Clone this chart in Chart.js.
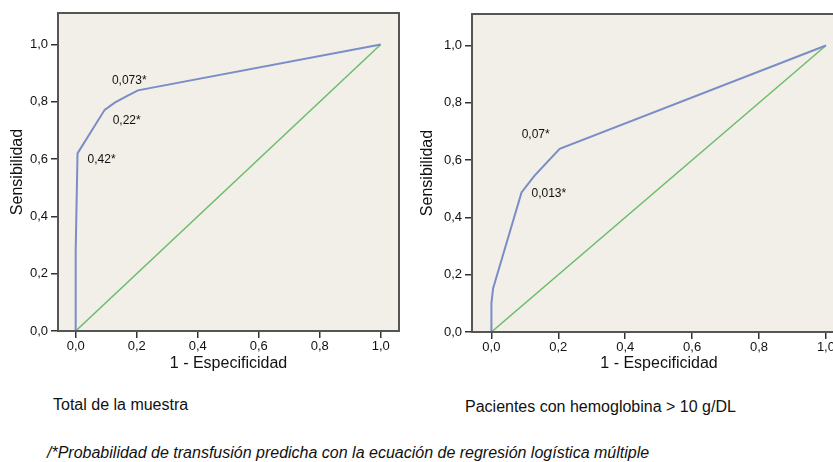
<!DOCTYPE html>
<html lang="es">
<head>
<meta charset="utf-8">
<script src="https://cdn.jsdelivr.net/npm/chart.js@4.4.0/dist/chart.umd.min.js"></script>
<style>
  html, body { margin: 0; padding: 0; background: #fff; }
  body { width: 833px; height: 462px; position: relative; overflow: hidden;
         font-family: "Liberation Sans", Arial, sans-serif; color: #111; }
  canvas { position: absolute; top: 0; }
  #rocTotal { left: 0; }
  #rocHb { left: 410px; }
  .pie { position: absolute; font-size: 16px; line-height: 18px; white-space: nowrap; }
  #pie1 { left: 53px; top: 396px; }
  #pie2 { left: 465px; top: 398px; }
  #nota { left: 47px; top: 444px; font-style: italic; }
</style>
</head>
<body>
<canvas id="rocTotal" width="410" height="380"></canvas>
<canvas id="rocHb" width="450" height="380"></canvas>
<div class="pie" id="pie1">Total de la muestra</div>
<div class="pie" id="pie2">Pacientes con hemoglobina &gt; 10 g/DL</div>
<div class="pie" id="nota">/*Probabilidad de transfusión predicha con la ecuación de regresión logística múltiple</div>

<script>
// Datos
const xTicks = [0, 0.2, 0.4, 0.6, 0.8, 1.0];
const yTicks = [0, 0.2, 0.4, 0.6, 0.8, 1.0];

// Total de la muestra
const fprTotal  = [0, 0, 0.006, 0.095, 0.128, 0.166, 0.204, 1];
const sensTotal = [0, 0.28, 0.62, 0.772, 0.797, 0.819, 0.84, 1];
const cortesTotal = ['0,42*', '0,22*', '0,073*'];
const idxTotal = [2, 3, 6];

// Pacientes con hemoglobina > 10 g/DL
const fprHb  = [0, 0, 0.005, 0.09, 0.129, 0.204, 1];
const sensHb = [0, 0.10, 0.152, 0.487, 0.546, 0.639, 1];
const cortesHb = ['0,013*', '0,07*'];
const idxHb = [3, 5];

// Línea de referencia
const diagonal = [0, 1];

const FUENTE = '"Liberation Sans", Arial, sans-serif';

const marco = {
  id: 'marco',
  beforeDraw(chart) {
    const { ctx, chartArea: a } = chart;
    ctx.save();
    ctx.fillStyle = '#f2efe8';
    ctx.fillRect(a.left, a.top, a.right - a.left, a.bottom - a.top);
    ctx.restore();
  },
  afterDraw(chart) {
    const { ctx, chartArea: a } = chart;
    ctx.save();
    ctx.strokeStyle = '#555';
    ctx.lineWidth = 2;
    ctx.strokeRect(a.left, a.top, a.right - a.left, a.bottom - a.top);
    ctx.restore();
  }
};

const etiquetas = {
  id: 'etiquetas',
  afterDatasetsDraw(chart, args, opts) {
    const { ctx, scales: { x, y } } = chart;
    const puntos = chart.data.datasets[0].data;
    ctx.save();
    ctx.font = '12px ' + FUENTE;
    ctx.fillStyle = '#111';
    ctx.textBaseline = 'middle';
    ctx.textAlign = 'left';
    opts.textos.forEach((t, i) => {
      const p = puntos[opts.indices[i]];
      const d = opts.desplaz[i];
      ctx.fillText(t, x.getPixelForValue(p.x) + d[0], y.getPixelForValue(p.y) + d[1]);
    });
    ctx.restore();
  }
};

function coma(v) {
  return v.toFixed(1).replace('.', ',');
}

function curvaRoc(id, fpr, sens, textos, indices, desplaz, anchoY, altoX, padding) {
  const ctx = document.getElementById(id).getContext('2d');
  new Chart(ctx, {
    type: 'scatter',
    data: {
      datasets: [
        {
          data: fpr.map((v, i) => ({ x: v, y: sens[i] })),
          showLine: true,
          borderColor: '#7a8dc6',
          borderWidth: 2,
          pointRadius: 0,
          tension: 0
        },
        {
          data: diagonal.map(v => ({ x: v, y: v })),
          showLine: true,
          borderColor: '#6cbd6a',
          borderWidth: 1.5,
          pointRadius: 0
        }
      ]
    },
    options: {
      responsive: false,
      animation: false,
      layout: { padding: padding },
      scales: {
        x: {
          type: 'linear',
          min: -0.058,
          max: 1.06,
          afterBuildTicks: s => { s.ticks = xTicks.map(v => ({ value: v })); },
          afterFit: s => { s.height = altoX; },
          border: { display: false },
          grid: { drawOnChartArea: false, tickLength: 7, color: '#333', lineWidth: 1.5 },
          ticks: { color: '#111', padding: 1, maxRotation: 0, font: { family: FUENTE, size: 13 }, callback: coma },
          title: { display: true, text: '1 - Especificidad', color: '#111', padding: { top: 0, bottom: 7 }, font: { family: FUENTE, size: 16 } }
        },
        y: {
          type: 'linear',
          min: 0,
          max: 1.11,
          afterBuildTicks: s => { s.ticks = yTicks.map(v => ({ value: v })); },
          afterFit: s => { s.width = anchoY; },
          border: { display: false },
          grid: { drawOnChartArea: false, tickLength: 7, color: '#333', lineWidth: 1.5 },
          ticks: { color: '#111', padding: 3, font: { family: FUENTE, size: 13 }, callback: coma },
          title: { display: true, text: 'Sensibilidad', color: '#111', padding: { top: 8, bottom: 0 }, font: { family: FUENTE, size: 16 } }
        }
      },
      plugins: {
        legend: { display: false },
        tooltip: { enabled: false },
        etiquetas: { textos: textos, indices: indices, desplaz: desplaz }
      }
    },
    plugins: [marco, etiquetas]
  });
}

document.addEventListener('DOMContentLoaded', function() {
  curvaRoc('rocTotal', fprTotal, sensTotal, cortesTotal, idxTotal,
    [[10, 6], [8, 11], [-26, -10]], 58, 49, { top: 13, right: 11 });
  curvaRoc('rocHb', fprHb, sensHb, cortesHb, idxHb,
    [[10, 1], [-38, -14]], 62, 48, { top: 14, right: 14 });
});
</script>
</body>
</html>
